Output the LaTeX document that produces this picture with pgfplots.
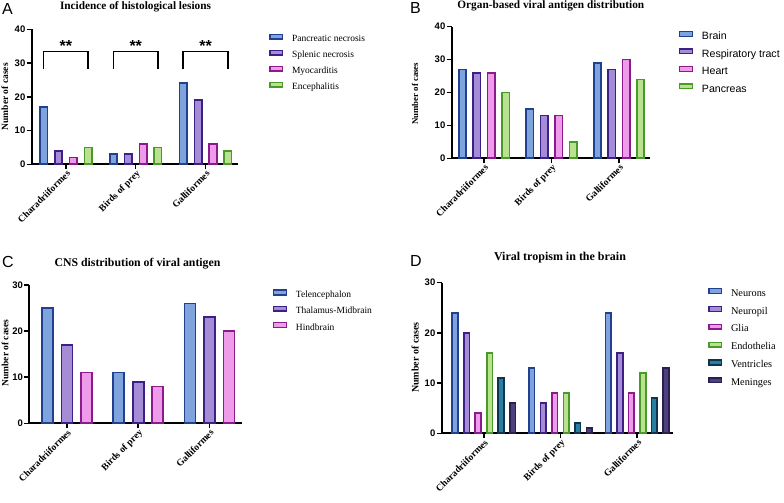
\documentclass[border=0pt]{standalone}
\usepackage{pgfplots}
\pgfplotsset{compat=1.18}
\usepackage{fontspec}
\setmainfont{Liberation Serif}
\newfontfamily\arial{Liberation Sans}

\definecolor{f1}{HTML}{7FA3DC} \definecolor{e1}{HTML}{21408F}
\definecolor{f2}{HTML}{A68BD6} \definecolor{e2}{HTML}{3B2085}
\definecolor{f3}{HTML}{EE9BEA} \definecolor{e3}{HTML}{8C1A8C}
\definecolor{f4}{HTML}{B9E290} \definecolor{e4}{HTML}{4A9A2A}
\definecolor{f5}{HTML}{2A7FA0} \definecolor{e5}{HTML}{0D3550}
\definecolor{f6}{HTML}{4E3F7F} \definecolor{e6}{HTML}{2A2050}

\tikzset{
  sig/.style={line width=1.8pt},
  stars/.style={font=\arial\bfseries\fontsize{16}{16}\selectfont, anchor=north, inner sep=0pt},
}

\pgfplotsset{
  barleg/.style={legend image code/.code={%
      \draw[##1, line width=1.3pt] (0.65pt,0.6pt) rectangle (13.35pt,5.4pt);
      \path (22pt,0pt);}},
  bar1/.style 2 args={fill=#1, draw=#2, line width=1.6pt, barleg},
  s1/.style={bar1={f1}{e1}},
  s2/.style={bar1={f2}{e2}},
  s3/.style={bar1={f3}{e3}},
  s4/.style={bar1={f4}{e4}},
  s5/.style={bar1={f5}{e5}},
  s6/.style={bar1={f6}{e6}},
  panel/.style={
    scale only axis, anchor=south west,
    axis lines=left, axis line style={-, line width=1.8pt},
    ymin=0, ytick distance=10,
    xtick={0,1,2}, xticklabels={Charadriiformes,Birds of prey,Galliformes},
    tick align=outside, major tick length=5pt,
    every tick/.style={black, line width=1.5pt},
    xticklabel style={rotate=45, anchor=north east, inner sep=0pt,
      font=\bfseries\fontsize{9.6}{10}\selectfont},
    yticklabel style={inner sep=1.2pt, font=\arial\bfseries\fontsize{9.5}{10}\selectfont},
    /pgf/number format/assume math mode=true,
    ylabel={Number of cases},
    ylabel style={anchor=center},
    legend cell align=left,
    legend style={draw=none, fill=none, inner sep=0pt, anchor=north west,
      nodes={inner sep=0pt, text height=7pt, text depth=2.5pt}},
  },
}

\begin{document}
\begin{tikzpicture}
\useasboundingbox (0,0) rectangle (784pt,503pt);

% A: histological lesions
\begin{axis}[panel, ybar=7.3pt, bar width=7.5pt,
  at={(31.7pt,338.7pt)}, width=206pt, height=135pt,
  xmin=-0.49, xmax=2.46, ymax=40,
  ylabel style={at={(axis description cs:-0.13,0.5)}, font=\bfseries\fontsize{9.5}{10}\selectfont},
  legend style={at={(axis description cs:1.152,0.970)}, row sep=5.2pt,
    font=\fontsize{9.5}{10}\selectfont}]
\addplot[s1] coordinates {(0,17) (1,3) (2,24)};
\addplot[s2] coordinates {(0,4) (1,3) (2,19)};
\addplot[s3] coordinates {(0,2) (1,6) (2,6)};
\addplot[s4] coordinates {(0,5) (1,5) (2,4)};
\legend{Pancreatic necrosis, Splenic necrosis, Myocarditis, Encephalitis}
% significance brackets
\draw[sig] (axis cs:-0.32,28.1) -- (axis cs:-0.32,33.4) -- (axis cs:0.32,33.4) -- (axis cs:0.32,28.1);
\draw[sig] (axis cs:0.68,28.1) -- (axis cs:0.68,33.4) -- (axis cs:1.32,33.4) -- (axis cs:1.32,28.1);
\draw[sig] (axis cs:1.68,28.1) -- (axis cs:1.68,33.4) -- (axis cs:2.32,33.4) -- (axis cs:2.32,28.1);
\node[stars] at (axis cs:0,36.6) {**};
\node[stars] at (axis cs:1,36.6) {**};
\node[stars] at (axis cs:2,36.6) {**};
\end{axis}

% B: organ-based antigen
\begin{axis}[panel, ybar=7.1pt, bar width=7.3pt,
  at={(451.7pt,344.7pt)}, width=198.3pt, height=131.6pt,
  xmin=-0.48, xmax=2.46, ymax=40,
  ylabel style={at={(axis description cs:-0.185,0.49)}, font=\bfseries\fontsize{8.8}{10}\selectfont},
  legend style={at={(axis description cs:1.146,0.970)}, row sep=6.2pt,
    font=\arial\fontsize{10.6}{11}\selectfont,
    nodes={text height=8pt}}]
\addplot[s1] coordinates {(0,27) (1,15) (2,29)};
\addplot[s2] coordinates {(0,26) (1,13) (2,27)};
\addplot[s3] coordinates {(0,26) (1,13) (2,30)};
\addplot[s4] coordinates {(0,20) (1,5) (2,24)};
\legend{Brain, Respiratory tract, Heart, Pancreas}
\end{axis}

% C: CNS distribution
\begin{axis}[panel, ybar=8.5pt, bar width=11pt,
  at={(29.3pt,79.7pt)}, width=212.4pt, height=138.3pt,
  xmin=-0.526, xmax=2.45, ymax=30,
  ylabel style={at={(axis description cs:-0.114,0.508)}, font=\bfseries\fontsize{9.5}{10}\selectfont},
  legend style={at={(axis description cs:1.147,0.969)}, row sep=5.4pt,
    font=\fontsize{9.5}{10}\selectfont}]
\addplot[s1] coordinates {(0,25) (1,11) (2,26)};
\addplot[s2] coordinates {(0,17) (1,9) (2,23)};
\addplot[s3] coordinates {(0,11) (1,8) (2,20)};
\legend{Telencephalon, Thalamus-Midbrain, Hindbrain}
\end{axis}

% D: tropism in the brain
\begin{axis}[panel, ybar=5.9pt, bar width=5.6pt,
  at={(441.7pt,69.7pt)}, width=231.6pt, height=150.6pt,
  xmin=-0.548, xmax=2.47, ymax=30,
  ylabel style={at={(axis description cs:-0.115,0.503)}, font=\bfseries\fontsize{10}{10}\selectfont},
  legend style={at={(axis description cs:1.150,0.967)}, row sep=7.1pt,
    font=\fontsize{10.3}{11}\selectfont}]
\addplot[s1] coordinates {(0,24) (1,13) (2,24)};
\addplot[s2] coordinates {(0,20) (1,6) (2,16)};
\addplot[s3] coordinates {(0,4) (1,8) (2,8)};
\addplot[s4] coordinates {(0,16) (1,8) (2,12)};
\addplot[s5] coordinates {(0,11) (1,2) (2,7)};
\addplot[s6] coordinates {(0,6) (1,1) (2,13)};
\legend{Neurons, Neuropil, Glia, Endothelia, Ventricles, Meninges}
\end{axis}

% panel titles and letters
\begin{scope}[every node/.style={inner sep=0pt}]
\node[anchor=base, font=\bfseries\fontsize{11.3}{12}\selectfont] at (135.5pt,493pt) {Incidence of histological lesions};
\node[anchor=base, font=\bfseries\fontsize{11.3}{12}\selectfont] at (550.8pt,494pt) {Organ-based viral antigen distribution};
\node[anchor=base, font=\bfseries\fontsize{11.8}{12}\selectfont] at (137.5pt,236.3pt) {CNS distribution of viral antigen};
\node[anchor=base, font=\bfseries\fontsize{12}{12}\selectfont] at (560pt,242.3pt) {Viral tropism in the brain};
\node[anchor=north west, font=\arial\fontsize{16}{16}\selectfont] at (2pt,500pt) {A};
\node[anchor=north west, font=\arial\fontsize{16}{16}\selectfont] at (410pt,501pt) {B};
\node[anchor=north west, font=\arial\fontsize{16}{16}\selectfont] at (2pt,247pt) {C};
\node[anchor=north west, font=\arial\fontsize{16}{16}\selectfont] at (410pt,248pt) {D};
\end{scope}
\end{tikzpicture}
\end{document}
